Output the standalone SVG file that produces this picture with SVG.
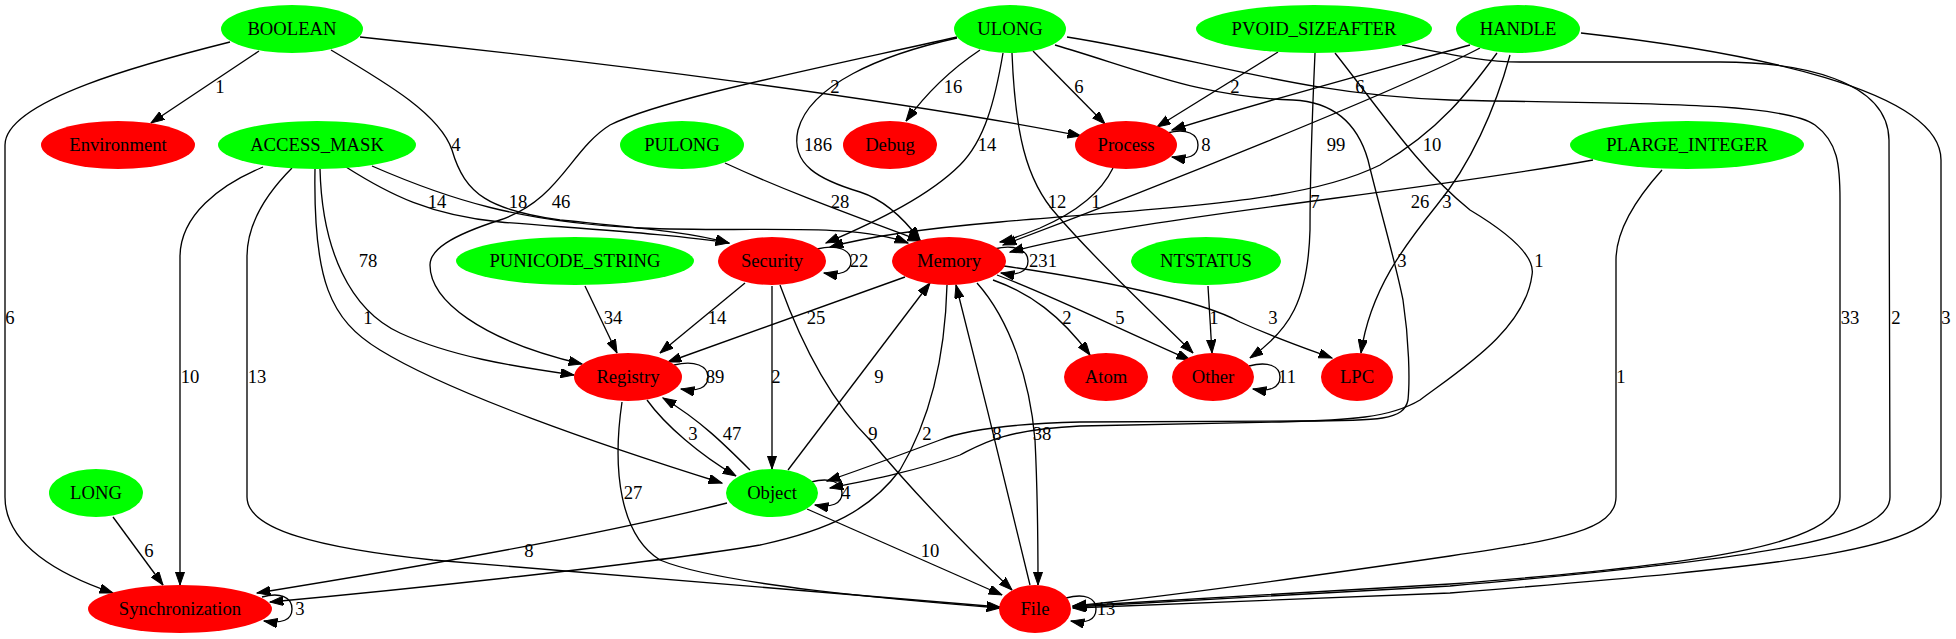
<svg xmlns="http://www.w3.org/2000/svg" width="1956" height="639" viewBox="0 0 1956 639">
<style>
text{font-family:"Liberation Serif","Times New Roman",serif;font-size:18.67px;text-anchor:middle;fill:#000}
.g{fill:#00ff00}
.r{fill:#ff0000}
.e path{fill:none;stroke:#000;stroke-width:1.33;marker-end:url(#a)}
</style>
<defs>
<marker id="a" markerUnits="userSpaceOnUse" markerWidth="14" markerHeight="10" refX="13.33" refY="4.67" orient="auto">
<path d="M0,0 L13.33,4.67 L0,9.33 z" fill="#000" stroke="#000" stroke-width="1"/>
</marker>
</defs>
<rect width="1956" height="639" fill="#fff"/>
<g id="edges" class="e">
<path d="M259,51 L151,123"/><text x="220" y="93">1</text>
<path d="M230,42 C150,62 5,100 5,145 L5,497 C5,545 60,575 113,593"/><text x="10" y="324">6</text>
<path d="M360,37 C600,62 900,100 1081,136"/><text x="835" y="93">2</text>
<path d="M331,50 C390,85 440,115 452,150 C465,195 490,210 560,220 C640,228 690,232 729,243"/><text x="456" y="151">4</text>
<path d="M263,167 C220,185 180,215 180,257 L180,585"/><text x="190" y="383">10</text>
<path d="M292,168 C265,195 247,225 247,257 L247,497 C247,530 320,548 433,560 C700,582 900,600 1000,607"/><text x="257" y="383">13</text>
<path d="M315,169 C313,280 330,320 380,350 C450,393 600,445 722,483"/><text x="368" y="324">1</text>
<path d="M320,169 C322,250 350,310 400,333 C450,356 510,366 574,375"/><text x="368" y="267">78</text>
<path d="M346,167 C390,195 430,215 500,222 C600,230 680,235 729,243"/><text x="437" y="208">14</text>
<path d="M372,166 C450,200 520,222 640,228 C760,233 850,222 908,243"/><text x="518" y="208">18</text>
<path d="M957,37 C800,72 660,100 610,125 C570,150 560,200 500,220 C450,236 430,250 430,265 C430,300 480,340 582,364"/><text x="561" y="208">46</text>
<path d="M957,38 C880,55 810,85 798,130 C790,165 820,180 860,192 C885,200 905,220 920,240"/><text x="818" y="151">186</text>
<path d="M980,50 C950,70 925,95 906,121"/><text x="953" y="93">16</text>
<path d="M1003,53 C995,100 985,140 960,165 C930,195 880,220 826,243"/><text x="987" y="151">14</text>
<path d="M1012,53 C1015,130 1025,180 1057,215 C1100,265 1160,320 1193,353"/><text x="1057" y="208">12</text>
<path d="M1033,51 L1105,124"/><text x="1079" y="93">6</text>
<path d="M1055,45 C1140,70 1200,97 1293,100 C1335,102 1358,125 1368,160 C1380,210 1395,260 1403,300 C1409,340 1410,380 1408,400 C1404,420 1380,421 1300,421 L1080,422 C1000,424 960,432 940,440 C900,455 860,470 827,481"/><text x="1402" y="267">3</text>
<path d="M1067,37 C1200,58 1300,95 1450,100 C1600,104 1780,100 1815,125 C1838,142 1840,165 1840,200 L1840,497 C1840,545 1700,565 1450,584 L1073,606"/><text x="1850" y="324">33</text>
<path d="M1278,52 L1157,127"/><text x="1235" y="93">2</text>
<path d="M1315,53 C1312,120 1310,200 1310,230 C1308,300 1290,330 1250,358"/><text x="1315" y="208">7</text>
<path d="M1335,53 C1380,110 1420,170 1470,210 C1520,240 1535,260 1532,275 C1525,330 1460,370 1420,400 C1390,418 1350,420 1280,422 L1080,426 C1000,430 980,445 960,455 C920,470 870,480 830,488"/><text x="1539" y="267">1</text>
<path d="M1402,45 C1440,52 1480,62 1520,62 L1720,62 C1800,62 1888,80 1889,140 L1890,497 C1890,540 1750,560 1450,586 L1073,607"/><text x="1896" y="324">2</text>
<path d="M1470,45 C1380,70 1250,105 1172,130"/><text x="1360" y="93">6</text>
<path d="M1480,48 C1400,90 1150,190 1003,245"/><text x="1336" y="151">99</text>
<path d="M1497,53 C1470,90 1440,130 1380,165 C1300,205 1150,208 1000,222 C930,228 870,236 830,247"/><text x="1432" y="151">10</text>
<path d="M1510,55 C1495,110 1470,165 1437,205 C1405,245 1370,290 1361,353"/><text x="1447" y="208">3</text>
<path d="M1581,33 C1750,52 1941,90 1941,160 L1941,497 C1941,550 1800,565 1450,593 L1073,608"/><text x="1946" y="324">3</text>
<path d="M1593,160 C1400,195 1150,215 1010,252"/><text x="1420" y="208">26</text>
<path d="M1662,170 C1635,200 1616,230 1616,260 L1616,497 C1616,530 1560,540 1450,556 C1300,578 1150,598 1073,606"/><text x="1621" y="383">1</text>
<path d="M725,163 C790,193 860,218 921,241"/><text x="840" y="208">28</text>
<path d="M585,286 L617,353"/><text x="613" y="324">34</text>
<path d="M1208,286 L1212,353"/><text x="1214" y="324">1</text>
<path d="M817,249 C838,244 851,250 851,261 C851,272 840,276 824,273"/><text x="859" y="267">22</text>
<path d="M745,283 L660,353"/><text x="717" y="324">14</text>
<path d="M772,286 L772,469"/><text x="776" y="383">2</text>
<path d="M780,285 C800,340 830,400 870,440 C920,500 970,550 1012,590"/><text x="873" y="440">9</text>
<path d="M994,249 C1015,244 1028,250 1028,261 C1028,272 1017,276 1001,273"/><text x="1043" y="267">231</text>
<path d="M905,277 L668,362"/><text x="816" y="324">25</text>
<path d="M993,280 C1030,293 1060,315 1090,355"/><text x="1067" y="324">2</text>
<path d="M997,275 C1050,295 1100,320 1190,360"/><text x="1120" y="324">5</text>
<path d="M1004,266 C1100,280 1200,300 1240,322 C1280,340 1310,350 1332,358"/><text x="1273" y="324">3</text>
<path d="M977,283 C1010,320 1030,380 1035,440 C1038,500 1038,550 1038,585"/><text x="1042" y="440">38</text>
<path d="M947,285 C945,360 930,420 900,470 C870,510 830,530 760,545 C640,565 400,590 270,602"/><text x="927" y="440">2</text>
<path d="M674,365 C695,360 708,366 708,377 C708,388 697,392 681,389"/><text x="715" y="383">89</text>
<path d="M647,400 C665,425 700,455 736,476"/><text x="693" y="440">3</text>
<path d="M750,470 C725,445 700,420 663,398"/><text x="732" y="440">47</text>
<path d="M622,402 C612,470 620,535 660,560 C720,585 900,600 1000,608"/><text x="633" y="499">27</text>
<path d="M811,482 C830,477 842,482 842,493 C842,504 831,508 815,505"/><text x="846" y="499">4</text>
<path d="M788,470 L930,283"/><text x="879" y="383">9</text>
<path d="M727,503 C600,535 400,570 257,593"/><text x="529" y="557">8</text>
<path d="M807,509 L1002,595"/><text x="930" y="557">10</text>
<path d="M1030,585 C1010,500 980,380 956,285"/><text x="997" y="440">8</text>
<path d="M1066,598 C1085,593 1096,598 1096,609 C1096,620 1086,624 1071,621"/><text x="1106" y="615">13</text>
<path d="M1249,366 C1268,361 1280,366 1280,377 C1280,388 1269,392 1253,389"/><text x="1287" y="383">11</text>
<path d="M262,597 C280,592 292,597 292,609 C292,620 282,624 264,621"/><text x="300" y="615">3</text>
<path d="M1167,133 C1187,128 1198,134 1198,145 C1198,156 1188,160 1172,157"/><text x="1206" y="151">8</text>
<path d="M1113,168 C1100,195 1070,215 1040,228 C1020,236 1010,240 1000,242"/><text x="1096" y="208">1</text>
<path d="M113,517 L163,585"/><text x="149" y="557">6</text>
</g>
<g id="BOOLEAN"><ellipse class="g" cx="292" cy="29" rx="71" ry="24"/><text x="292" y="35">BOOLEAN</text></g>
<g id="Environment"><ellipse class="r" cx="118" cy="145" rx="77" ry="24"/><text x="118" y="151">Environment</text></g>
<g id="ACCESS_MASK"><ellipse class="g" cx="317" cy="145" rx="99" ry="24"/><text x="317" y="151">ACCESS_MASK</text></g>
<g id="ULONG"><ellipse class="g" cx="1010" cy="29" rx="56" ry="24"/><text x="1010" y="35">ULONG</text></g>
<g id="PVOID_SIZEAFTER"><ellipse class="g" cx="1314" cy="29" rx="118" ry="24"/><text x="1314" y="35">PVOID_SIZEAFTER</text></g>
<g id="HANDLE"><ellipse class="g" cx="1518" cy="29" rx="62" ry="24"/><text x="1518" y="35">HANDLE</text></g>
<g id="PLARGE_INTEGER"><ellipse class="g" cx="1687" cy="145" rx="117" ry="24"/><text x="1687" y="151">PLARGE_INTEGER</text></g>
<g id="PULONG"><ellipse class="g" cx="682" cy="145" rx="62" ry="24"/><text x="682" y="151">PULONG</text></g>
<g id="Debug"><ellipse class="r" cx="890" cy="145" rx="47" ry="24"/><text x="890" y="151">Debug</text></g>
<g id="Process"><ellipse class="r" cx="1126" cy="145" rx="51" ry="24"/><text x="1126" y="151">Process</text></g>
<g id="PUNICODE_STRING"><ellipse class="g" cx="575" cy="261" rx="119" ry="24"/><text x="575" y="267">PUNICODE_STRING</text></g>
<g id="Security"><ellipse class="r" cx="772" cy="261" rx="54" ry="24"/><text x="772" y="267">Security</text></g>
<g id="Memory"><ellipse class="r" cx="949" cy="261" rx="57" ry="24"/><text x="949" y="267">Memory</text></g>
<g id="NTSTATUS"><ellipse class="g" cx="1206" cy="261" rx="75" ry="24"/><text x="1206" y="267">NTSTATUS</text></g>
<g id="Registry"><ellipse class="r" cx="628" cy="377" rx="54" ry="24"/><text x="628" y="383">Registry</text></g>
<g id="Atom"><ellipse class="r" cx="1106" cy="377" rx="42" ry="24"/><text x="1106" y="383">Atom</text></g>
<g id="Other"><ellipse class="r" cx="1213" cy="377" rx="41" ry="24"/><text x="1213" y="383">Other</text></g>
<g id="LPC"><ellipse class="r" cx="1357" cy="377" rx="36" ry="24"/><text x="1357" y="383">LPC</text></g>
<g id="LONG"><ellipse class="g" cx="96" cy="493" rx="47" ry="24"/><text x="96" y="499">LONG</text></g>
<g id="Object"><ellipse class="g" cx="772" cy="493" rx="46" ry="24"/><text x="772" y="499">Object</text></g>
<g id="Synchronization"><ellipse class="r" cx="180" cy="609" rx="92" ry="24"/><text x="180" y="615">Synchronization</text></g>
<g id="File"><ellipse class="r" cx="1035" cy="609" rx="36" ry="24"/><text x="1035" y="615">File</text></g>
</svg>
